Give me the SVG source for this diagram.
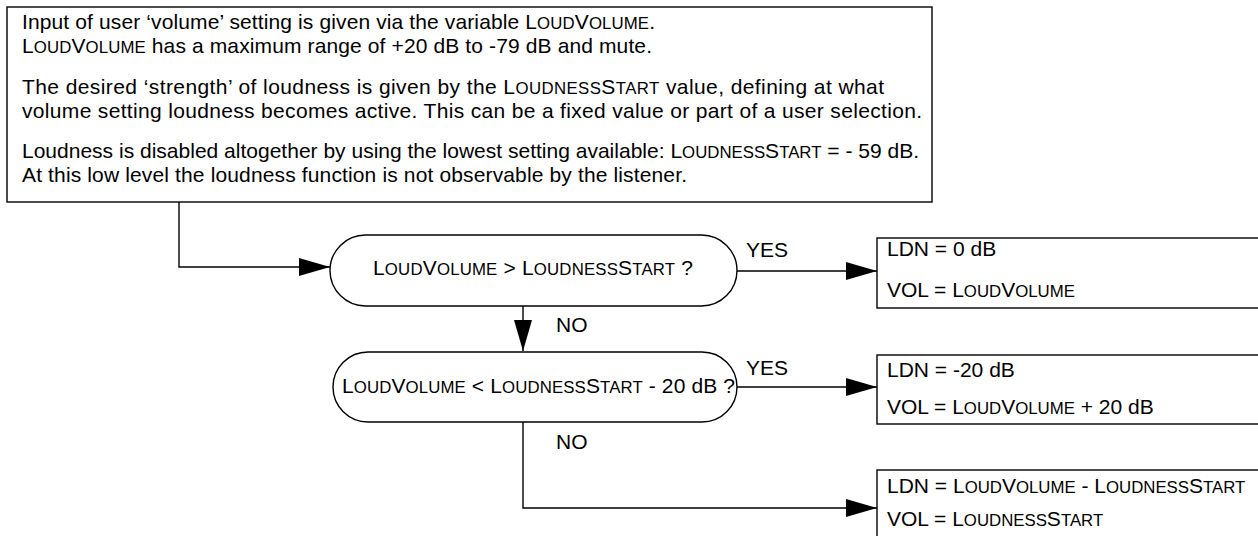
<svg xmlns="http://www.w3.org/2000/svg" width="1258" height="536" viewBox="0 0 1258 536">
<style>
text{font-family:"Liberation Sans",Arial,Helvetica,sans-serif;font-size:21px;fill:#000}
.sc{font-size:16.8px}
.box{fill:#fff;stroke:#000;stroke-width:1.4}
.con{fill:none;stroke:#000;stroke-width:1.4}
</style>
<defs>
<marker id="arr" markerUnits="userSpaceOnUse" markerWidth="31" markerHeight="18" refX="31" refY="9" orient="auto" viewBox="0 0 31 18">
<path d="M0,0 L31,9 L0,18 z" fill="#000"/>
</marker>
</defs>
<rect width="1258" height="536" fill="#fff"/>
<g id="info">
<rect class="box" x="7" y="7" width="925" height="195"/>
<text x="22" y="29" textLength="633">Input of user ‘volume’ setting is given via the variable L<tspan class="sc">OUD</tspan>V<tspan class="sc">OLUME</tspan>.</text>
<text x="22" y="53" textLength="630">L<tspan class="sc">OUD</tspan>V<tspan class="sc">OLUME</tspan> has a maximum range of +20 dB to -79 dB and mute.</text>
<text x="22" y="94" textLength="862">The desired ‘strength’ of loudness is given by the L<tspan class="sc">OUDNESS</tspan>S<tspan class="sc">TART</tspan> value, defining at what</text>
<text x="22" y="118" textLength="900">volume setting loudness becomes active. This can be a fixed value or part of a user selection.</text>
<text x="22" y="158" textLength="897">Loudness is disabled altogether by using the lowest setting available: L<tspan class="sc">OUDNESS</tspan>S<tspan class="sc">TART</tspan> = - 59 dB.</text>
<text x="22" y="182" textLength="665">At this low level the loudness function is not observable by the listener.</text>
</g>
<g id="decision1">
<rect class="box" x="330" y="235" width="407" height="71" rx="35.5" ry="35.5"/>
<text x="373" y="275" textLength="320">L<tspan class="sc">OUD</tspan>V<tspan class="sc">OLUME</tspan> &gt; L<tspan class="sc">OUDNESS</tspan>S<tspan class="sc">TART</tspan> ?</text>
</g>
<g id="decision2">
<rect class="box" x="333" y="352" width="404" height="70" rx="35" ry="35"/>
<text x="342" y="393" textLength="393">L<tspan class="sc">OUD</tspan>V<tspan class="sc">OLUME</tspan> &lt; L<tspan class="sc">OUDNESS</tspan>S<tspan class="sc">TART</tspan> - 20 dB ?</text>
</g>
<g id="result1">
<rect class="box" x="877" y="238" width="385" height="70"/>
<text x="887" y="256">LDN = 0 dB</text>
<text x="887" y="297">VOL = L<tspan class="sc">OUD</tspan>V<tspan class="sc">OLUME</tspan></text>
</g>
<g id="result2">
<rect class="box" x="877" y="355" width="385" height="69"/>
<text x="887" y="377">LDN = -20 dB</text>
<text x="887" y="414">VOL = L<tspan class="sc">OUD</tspan>V<tspan class="sc">OLUME</tspan> + 20 dB</text>
</g>
<g id="result3">
<rect class="box" x="877" y="470" width="385" height="75"/>
<text x="887" y="493">LDN = L<tspan class="sc">OUD</tspan>V<tspan class="sc">OLUME</tspan> - L<tspan class="sc">OUDNESS</tspan>S<tspan class="sc">TART</tspan></text>
<text x="887" y="526">VOL = L<tspan class="sc">OUDNESS</tspan>S<tspan class="sc">TART</tspan></text>
</g>
<g id="connectors">
<path class="con" d="M179,202 V267 H330" marker-end="url(#arr)"/>
<path class="con" d="M737,271 H877" marker-end="url(#arr)"/>
<path class="con" d="M523,306 V351" marker-end="url(#arr)"/>
<path class="con" d="M737,387 H877" marker-end="url(#arr)"/>
<path class="con" d="M523,422 V508 H877" marker-end="url(#arr)"/>
<text x="746" y="257">YES</text>
<text x="556" y="332">NO</text>
<text x="746" y="375">YES</text>
<text x="556" y="449">NO</text>
</g>
</svg>
